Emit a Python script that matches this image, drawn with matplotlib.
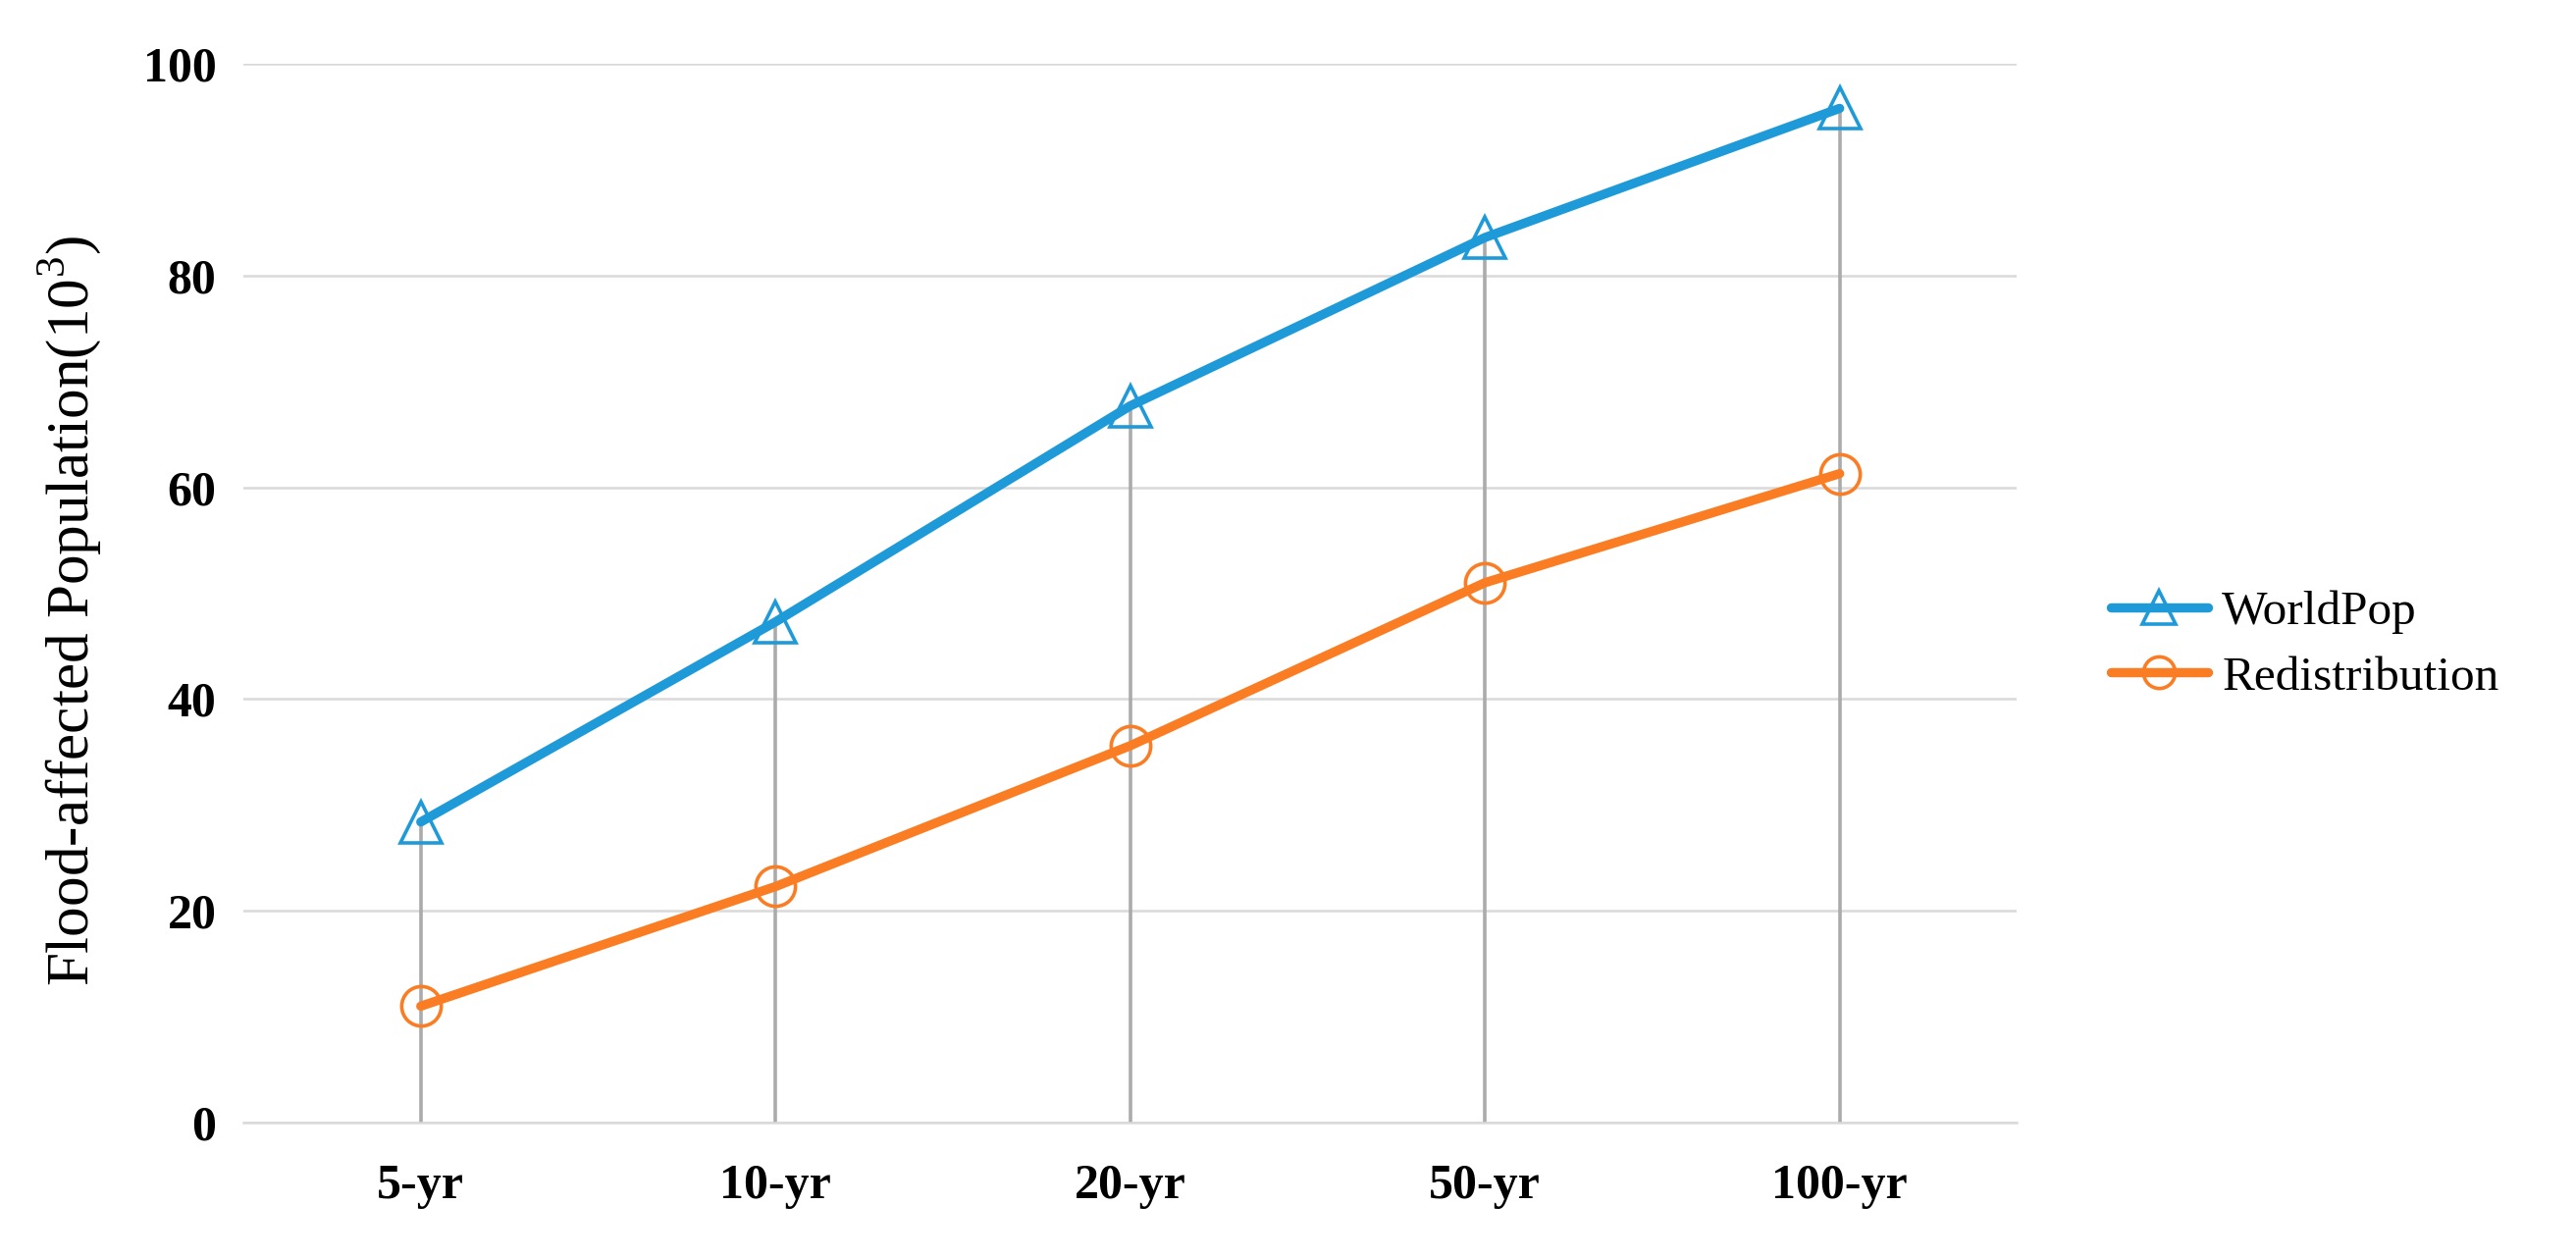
import numpy as np
import matplotlib.pyplot as plt

# data
periods = ['5-yr', '10-yr', '20-yr', '50-yr', '100-yr']
worldpop = [28.4, 47.3, 67.7, 83.6, 95.8]
redistribution = [11.0, 22.3, 35.6, 51.0, 61.3]
y_ticks = [0, 20, 40, 60, 80, 100]

plt.rcParams['font.family'] = ['Liberation Serif', 'DejaVu Serif']
plt.rcParams['mathtext.fontset'] = 'custom'
plt.rcParams['mathtext.rm'] = 'Liberation Serif'

fig = plt.figure(figsize=(26.25, 12.82), dpi=100)
ax = fig.add_axes([0.0945, 0.1076, 0.6885, 0.8416])

x = np.arange(len(periods))

# drop lines from 0 up to the highest series
tops = np.maximum(worldpop, redistribution)
ax.vlines(x, 0, tops, color='#ABABAB', linewidth=2.6, zorder=2)

ax.plot(x, worldpop, color='#1E9AD8', linewidth=6.8, marker='^', markersize=30,
        markerfacecolor='none', markeredgecolor='#1E9AD8', markeredgewidth=2.6,
        solid_capstyle='round', label='WorldPop', zorder=3)
ax.plot(x, redistribution, color='#FA7D24', linewidth=6.8, marker='o', markersize=29,
        markerfacecolor='none', markeredgecolor='#FA7D24', markeredgewidth=2.6,
        solid_capstyle='round', label='Redistribution', zorder=3)

ax.set_xlim(-0.5, len(periods) - 0.5)
ax.set_ylim(0, 100)
ax.set_yticks(y_ticks)
ax.set_xticks(x)
ax.set_xticklabels(periods)
ax.grid(axis='y', color='#D9D9D9', linewidth=1.8, zorder=0)
ax.set_axisbelow(True)
for s in ['top', 'right', 'left']:
    ax.spines[s].set_visible(False)
ax.spines['bottom'].set_color('#D9D9D9')
ax.spines['bottom'].set_linewidth(1.8)

ax.tick_params(axis='both', length=0, labelsize=36)
ax.tick_params(axis='y', pad=20)
ax.tick_params(axis='x', pad=30)
for lbl in ax.get_xticklabels() + ax.get_yticklabels():
    lbl.set_fontweight('bold')

ax.set_ylabel(r'Flood-affected Population(10$^{3}$)', fontsize=44)
ax.yaxis.set_label_coords(-0.079, 0.483)

fig.legend(loc='center left', bbox_to_anchor=(0.8025, 0.4875), frameon=False,
           fontsize=35.5, handlelength=2.0, labelspacing=0.45, handletextpad=0.3,
           markerscale=0.8)

fig.savefig('out.png', dpi=100)
